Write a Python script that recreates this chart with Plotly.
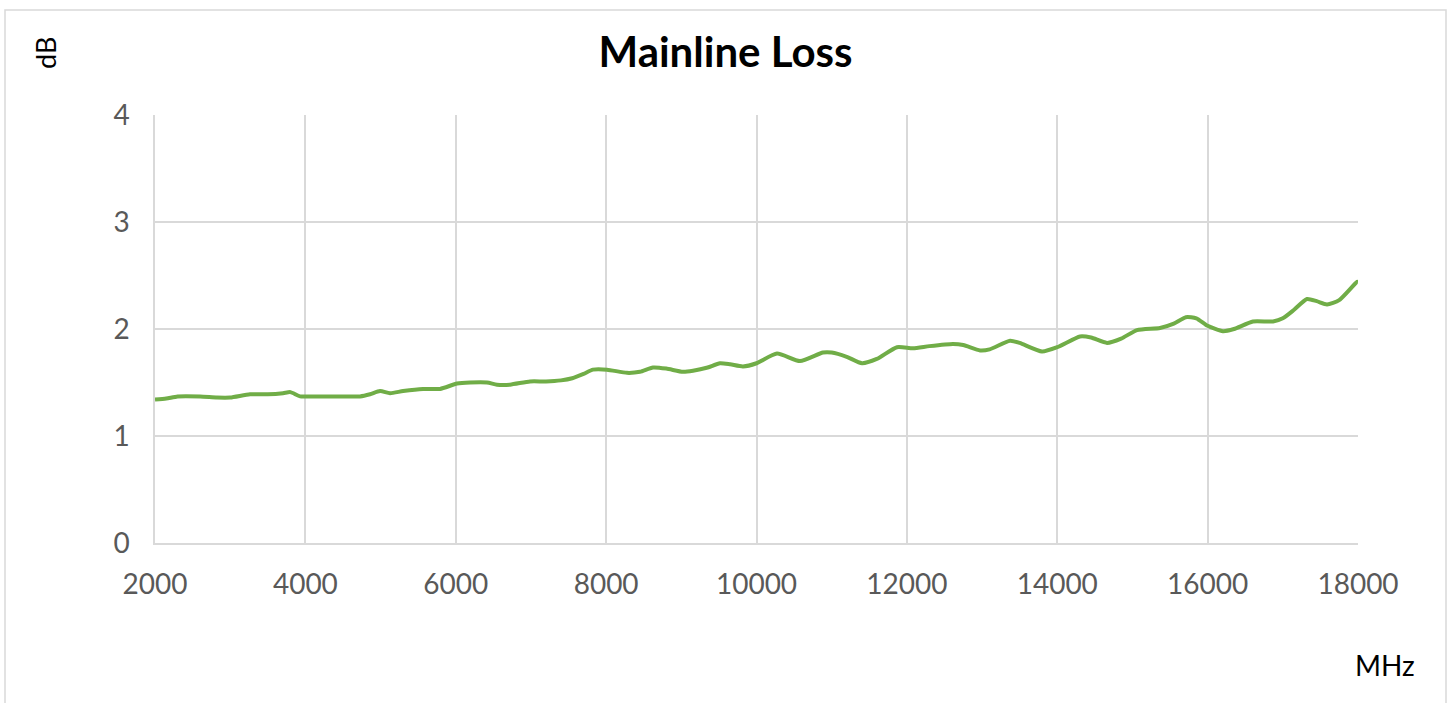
import plotly.graph_objects as go

freq_mhz = [2000, 2150, 2300, 2600, 2825, 3000, 3264, 3500, 3703, 3800, 3930, 4100, 4400, 4727,
            4860, 4993, 5126, 5300, 5565, 5790, 6017, 6190, 6416, 6549, 6722, 6988, 7200, 7400,
            7550, 7700, 7825, 8012, 8278, 8450, 8623, 8800, 9022, 9155, 9350, 9514, 9650, 9820,
            10000, 10273, 10579, 10884, 11000, 11200, 11403, 11600, 11869, 12081, 12300, 12613,
            12750, 12973, 13100, 13372, 13500, 13797, 14000, 14303, 14450, 14662, 14850, 15061,
            15367, 15550, 15711, 15850, 16000, 16204, 16350, 16603, 16870, 17000, 17150, 17322,
            17450, 17588, 17750, 17987, 18000]
loss_db = [1.34, 1.35, 1.37, 1.37, 1.36, 1.36, 1.39, 1.39, 1.40, 1.41, 1.37, 1.37, 1.37, 1.37,
           1.39, 1.42, 1.40, 1.42, 1.44, 1.44, 1.49, 1.50, 1.50, 1.48, 1.48, 1.51, 1.51, 1.52,
           1.54, 1.58, 1.62, 1.62, 1.59, 1.60, 1.64, 1.63, 1.60, 1.61, 1.64, 1.68, 1.67, 1.65,
           1.68, 1.77, 1.70, 1.78, 1.78, 1.74, 1.68, 1.72, 1.83, 1.82, 1.84, 1.86,
           1.85, 1.80, 1.81, 1.89, 1.87, 1.79, 1.83, 1.93, 1.92, 1.87, 1.91, 1.99,
           2.01, 2.05, 2.11, 2.10, 2.03, 1.98, 2.00, 2.07, 2.07, 2.10, 2.18, 2.28,
           2.26, 2.23, 2.27, 2.44, 2.44]

x_ticks = [2000, 4000, 6000, 8000, 10000, 12000, 14000, 16000, 18000]
y_ticks = [0, 1, 2, 3, 4]

W, H = 1451, 703

fig = go.Figure()
fig.add_trace(go.Scatter(x=freq_mhz, y=loss_db, mode="lines",
                         line=dict(color="#70ad47", width=4, shape="spline", smoothing=0.6),
                         showlegend=False))

font_family = "Lato, Open Sans, sans-serif"
fig.update_layout(
    width=W, height=H,
    margin=dict(l=155, r=W - 1358, t=115, b=H - 543),
    paper_bgcolor="white", plot_bgcolor="white",
    font=dict(family=font_family, color="#595959", size=28),
    title=dict(text="<b>Mainline Loss</b>", x=725.5 / W, xanchor="center", xref="container",
               y=1 - 52 / H, yanchor="middle", yref="container",
               font=dict(size=42, color="black", family=font_family)),
    xaxis=dict(range=[2000, 18000], tickvals=x_ticks, ticktext=[str(v) for v in x_ticks],
               showgrid=True, gridcolor="#d9d9d9", gridwidth=1.5, zeroline=False,
               showline=True, linecolor="#d9d9d9", linewidth=1.5, ticks="outside",
               ticklen=16, tickcolor="rgba(0,0,0,0)",
               tickfont=dict(size=28, color="#595959")),
    yaxis=dict(range=[0, 4], tickvals=y_ticks, ticktext=[str(v) for v in y_ticks],
               showgrid=True, gridcolor="#d9d9d9", gridwidth=1.5, zeroline=False,
               showline=True, linecolor="#d9d9d9", linewidth=1.5, ticks="outside",
               ticklen=18, tickcolor="rgba(0,0,0,0)",
               tickfont=dict(size=28, color="#595959")),
    shapes=[dict(type="rect", xref="paper", yref="paper",
                 x0=(5 - 155) / 1203, x1=(1446 - 155) / 1203,
                 y0=(543 - 730) / 428, y1=(543 - 10) / 428,
                 line=dict(color="#d9d9d9", width=1.5), fillcolor="rgba(0,0,0,0)", layer="below")],
    annotations=[
        dict(text="dB", xref="paper", yref="paper", x=(45 - 155) / 1203, y=(543 - 53) / 428,
             showarrow=False, textangle=-90, font=dict(size=27, color="black", family=font_family),
             xanchor="center", yanchor="middle"),
        dict(text="MHz", xref="paper", yref="paper", x=(1385 - 155) / 1203, y=(543 - 665) / 428,
             showarrow=False, font=dict(size=28, color="black", family=font_family),
             xanchor="center", yanchor="middle"),
    ],
)

fig.write_html("out.html", config={"displayModeBar": False},
               post_script="document.body.style.margin='0';document.body.style.overflow='hidden';")
